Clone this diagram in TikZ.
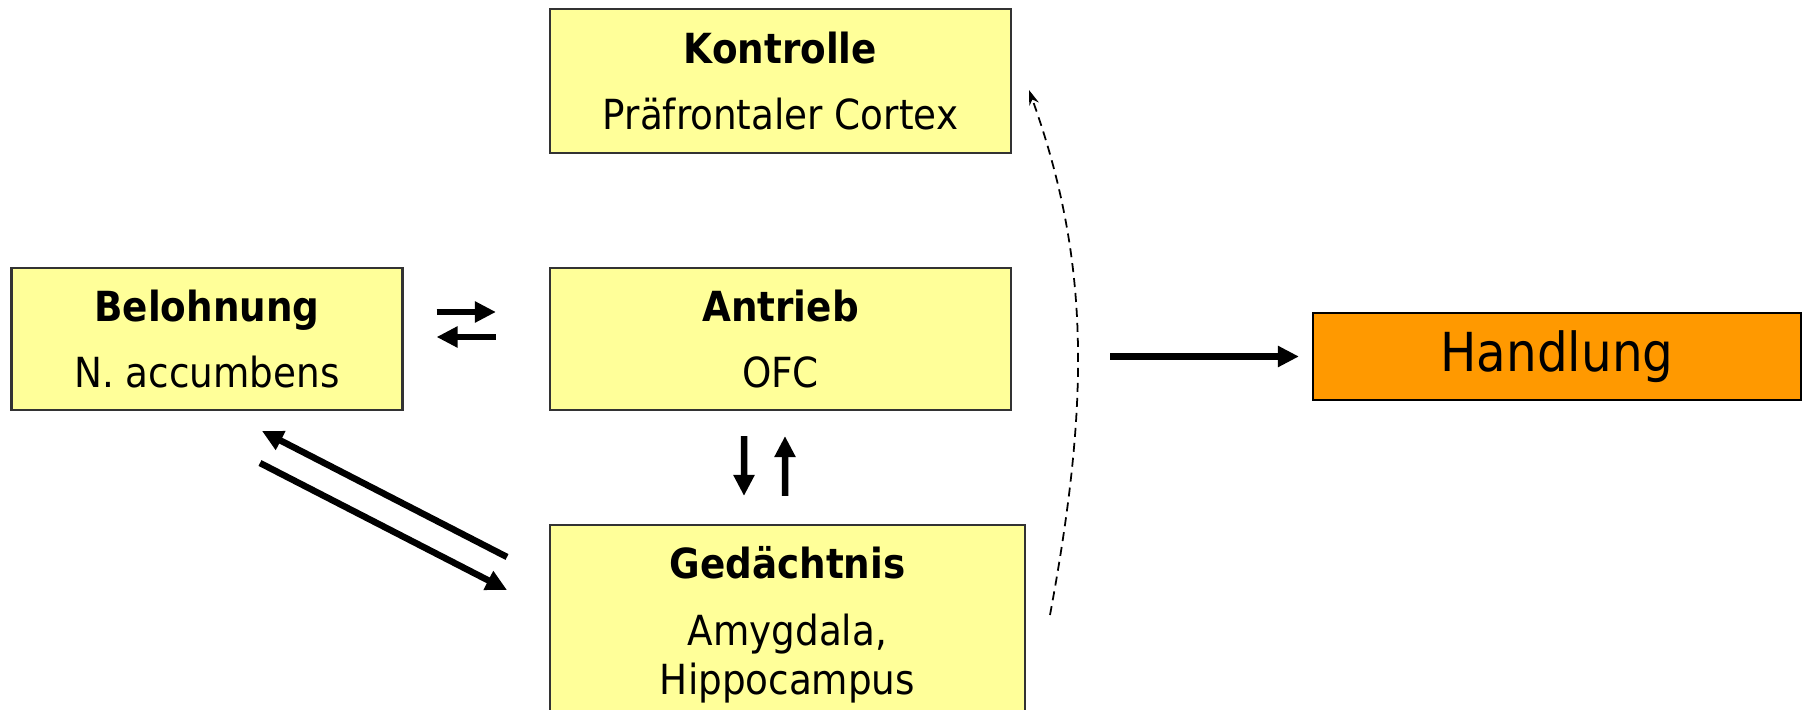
\documentclass[tikz,border=0pt]{standalone}
\usepackage{fontspec}
\setmainfont{DejaVu Sans Condensed}
\usetikzlibrary{arrows.meta}

\definecolor{boxyellow}{HTML}{FFFF99}
\definecolor{actorange}{HTML}{FF9900}

\tikzset{
  region/.style={draw=black!80, line width=0.6pt, fill=boxyellow, align=center,
    inner sep=0pt, font=\fontsize{11.8}{14}\selectfont},
  flow/.style={line width=0.065cm, -{Triangle[length=0.21cm,width=0.2cm]}},
  hint/.style={line width=0.5pt, dash pattern=on 0.09cm off 0.06cm,
    -{Stealth[length=0.15cm,width=0.1cm]}},
}

\begin{document}
\begin{tikzpicture}
\useasboundingbox (0,0) rectangle (18.03,-7.10);

% Boxes
\node[region, minimum width=4.61cm, minimum height=1.44cm] (kon) at (7.805,-0.81)
  {\textbf{Kontrolle}\\[5pt]Präfrontaler Cortex};
\node[region, minimum width=3.91cm, minimum height=1.42cm] (bel) at (2.07,-3.39)
  {\textbf{Belohnung}\\[5pt]N. accumbens};
\node[region, minimum width=4.61cm, minimum height=1.42cm] (ant) at (7.805,-3.39)
  {\textbf{Antrieb}\\[5pt]OFC};
\node[region, minimum width=4.75cm, minimum height=2.0cm] (ged) at (7.875,-6.25)
  {\textbf{Gedächtnis}\\[5pt]Amygdala,\\Hippocampus};
\node[region, minimum width=4.88cm, minimum height=0.87cm, fill=actorange, draw=black,
  font=\fontsize{15.3}{18}\selectfont] (act) at (15.57,-3.565) {Handlung};

% Belohnung <-> Antrieb
\draw[flow, shorten <=0.33cm, shorten >=0.53cm] ([yshift=0.27cm]bel.east) -- ([yshift=0.27cm]ant.west);
\draw[flow, shorten <=0.53cm, shorten >=0.33cm] ([yshift=0.02cm]ant.west) -- ([yshift=0.02cm]bel.east);

% Antrieb <-> Gedaechtnis
\draw[flow, shorten <=0.25cm, shorten >=0.28cm] ([xshift=-0.365cm]ant.south) -- ([xshift=-0.435cm]ged.north);
\draw[flow, shorten <=0.28cm, shorten >=0.25cm] ([xshift=-0.025cm]ged.north) -- ([xshift=0.045cm]ant.south);

% Belohnung <-> Gedaechtnis
\coordinate (g1) at (5.07,-5.57);
\coordinate (b1) at (2.62,-4.31);
\coordinate (b2) at (2.60,-4.63);
\coordinate (g2) at (5.07,-5.90);
\draw[flow] (g1) -- (b1);
\draw[flow] (b2) -- (g2);

% to Handlung
\coordinate (out) at (11.10,-3.565);
\draw[flow, shorten >=0.13cm] (out) -- (act.west);

% feedback to Kontrolle
\coordinate (fbot) at (10.50,-6.15);
\coordinate (ftop) at (10.29,-0.90);
\draw[hint] (fbot) .. controls (10.90,-4.00) and (10.90,-2.60) .. (ftop);

\end{tikzpicture}
\end{document}
